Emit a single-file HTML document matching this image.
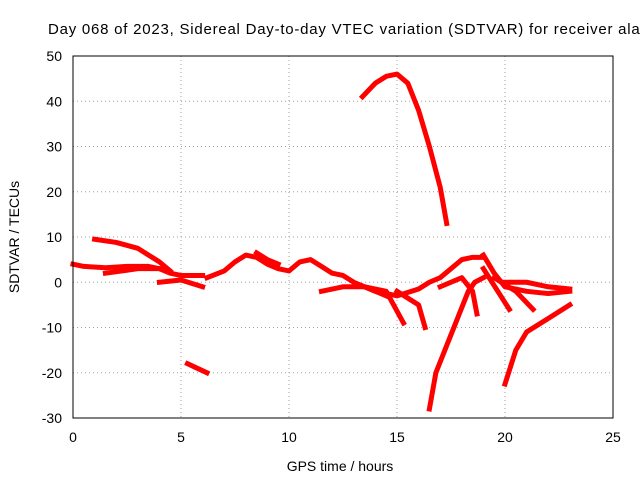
<!DOCTYPE html>
<html><head><meta charset="utf-8"><style>
body{margin:0;background:#fff;}
svg{display:block;font-family:"Liberation Sans",sans-serif;}
</style></head><body>
<svg id="chart" width="640" height="480">
<rect width="640" height="480" fill="#fff"/>
<text x="48" y="34" font-size="15" textLength="600" lengthAdjust="spacing" fill="#000">Day 068 of 2023, Sidereal Day-to-day VTEC variation (SDTVAR) for receiver alac</text>
<g id="grid"></g>
<g id="series"></g>
<rect x="73" y="56" width="540" height="362" fill="none" stroke="#000" stroke-width="1"/>
<g id="ticks"></g>
<text x="340" y="471" font-size="14" text-anchor="middle">GPS time / hours</text>
<text transform="translate(19,237) rotate(-90)" font-size="14" text-anchor="middle">SDTVAR / TECUs</text>
</svg>
<script>
const xTicks=[0,5,10,15,20,25];
const yTicks=[-30,-20,-10,0,10,20,30,40,50];
const trackA=[[13.4,41],[14,44],[14.5,45.5],[15,46],[15.5,44],[16,38],[16.5,30],[17,21],[17.3,13]];
const trackB=[[0,4],[0.5,3.5],[1.5,3.2],[2.5,3.5],[3.5,3.5],[4,3],[4.5,2],[5,1.5],[6,1.5]];
const trackC=[[1,9.5],[2,8.8],[3,7.5],[3.5,6],[4,4.5],[4.5,2.5]];
const trackD=[[1.5,2],[3,3],[4,3]];
const trackE=[[4,0],[5,0.5],[6,-1]];
const trackF=[[5.3,-18],[6.2,-20]];
const trackG=[[6.2,1],[7,2.5],[7.5,4.5],[8,6],[8.5,5.5],[9,4],[9.5,3],[10,2.5],[10.5,4.5],[11,5],[11.5,3.5],[12,2],[12.5,1.5],[13,0],[13.5,-1],[14,-2],[15,-3],[16,-1.5],[16.5,0],[17,1],[17.5,3],[18,5],[18.5,5.5],[19,5.5]];
const trackH=[[8.5,6.5],[9,5],[9.5,4]];
const trackI=[[11.5,-2],[12.5,-1],[13.5,-1],[14.5,-3]];
const trackJ=[[13.5,-1],[14.5,-2],[15.3,-9]];
const trackK=[[15,-2],[16,-5],[16.3,-10]];
const trackL=[[16.5,-28],[16.8,-20],[17.3,-14],[17.8,-8],[18.3,-2],[18.6,0],[19,1]];
const trackM=[[17,-1],[18,1],[18.5,-2],[18.7,-7]];
const trackN=[[19,6],[19.5,2],[20,-1],[21,-2],[22,-2.5],[23,-2]];
const trackO=[[19,3],[19.8,-3],[20.2,-6]];
const trackP=[[20,-22.5],[20.5,-15],[21,-11],[22,-8],[23,-5]];
const trackQ=[[19.5,1],[20.5,-2],[21.3,-6]];
const trackR=[[20,0],[21,0],[22,-1],[23,-1.5]];
const tracks=[trackA,trackB,trackC,trackD,trackE,trackF,trackG,trackH,trackI,trackJ,trackK,trackL,trackM,trackN,trackO,trackP,trackQ,trackR];
const NS="http://www.w3.org/2000/svg";
function xs(v){return 73+v*(540/25);}
function ys(v){return 418-(v+30)*(362/80);}
const grid=document.getElementById('grid'),ticks=document.getElementById('ticks'),ser=document.getElementById('series');
xTicks.forEach(t=>{
 const l=document.createElementNS(NS,'line');
 l.setAttribute('x1',xs(t));l.setAttribute('x2',xs(t));l.setAttribute('y1',56);l.setAttribute('y2',418);
 l.setAttribute('stroke','#a0a0a0');l.setAttribute('stroke-dasharray','1,3');
 
 
 grid.appendChild(l);
 const tx=document.createElementNS(NS,'text');
 tx.setAttribute('x',xs(t));tx.setAttribute('y',442);tx.setAttribute('font-size','14');tx.setAttribute('text-anchor','middle');
 tx.textContent=t;
 
 
 ticks.appendChild(tx);
});
yTicks.forEach(t=>{
 const l=document.createElementNS(NS,'line');
 l.setAttribute('x1',73);l.setAttribute('x2',613);l.setAttribute('y1',ys(t));l.setAttribute('y2',ys(t));
 l.setAttribute('stroke','#a0a0a0');l.setAttribute('stroke-dasharray','1,3');
 
 
 grid.appendChild(l);
 const tx=document.createElementNS(NS,'text');
 tx.setAttribute('x',62);tx.setAttribute('y',ys(t)+5);tx.setAttribute('font-size','14');tx.setAttribute('text-anchor','end');
 tx.textContent=t;
 
 
 ticks.appendChild(tx);
});
tracks.forEach(tr=>{
 const p=document.createElementNS(NS,'polyline');
 p.setAttribute('points',tr.map(d=>xs(d[0])+','+ys(d[1])).join(' '));
 p.setAttribute('fill','none');p.setAttribute('stroke','#ff0000');p.setAttribute('stroke-width','5');
 p.setAttribute('stroke-linejoin','round');p.setAttribute('stroke-linecap','square');
 
 
 ser.appendChild(p);
});
</script>
</body></html>
